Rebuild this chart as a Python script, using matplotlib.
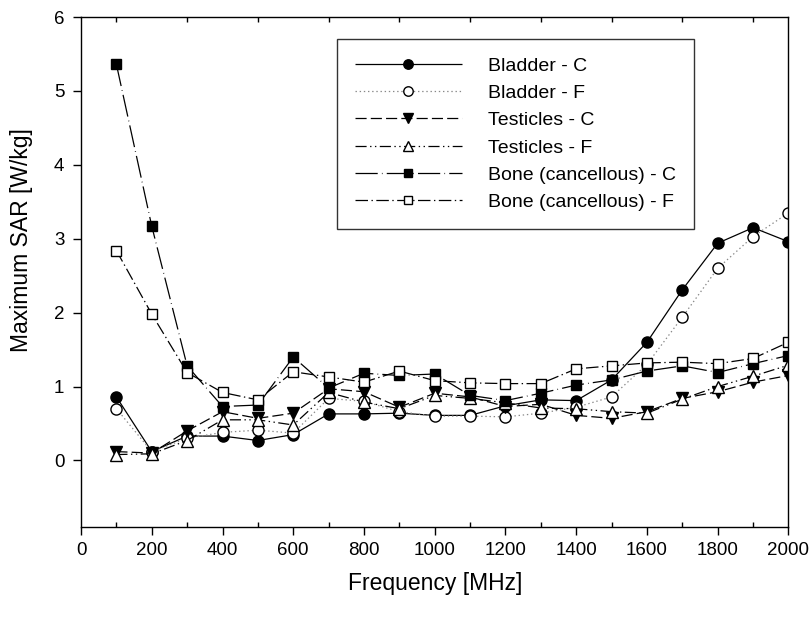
import matplotlib
matplotlib.use("Agg")
import matplotlib.pyplot as plt
from matplotlib.ticker import MultipleLocator

plt.rcParams['font.family'] = ['Liberation Sans', 'DejaVu Sans']
plt.rcParams['lines.scale_dashes'] = False

# --- data ---
freq = [100, 200, 300, 400, 500, 600, 700, 800, 900, 1000,
        1100, 1200, 1300, 1400, 1500, 1600, 1700, 1800, 1900, 2000]

bladder_c = [0.86, 0.12, 0.33, 0.33, 0.27, 0.35, 0.63, 0.63, 0.64, 0.61,
             0.61, 0.74, 0.82, 0.81, 1.09, 1.60, 2.31, 2.94, 3.15, 2.96]
bladder_f = [0.70, 0.12, 0.30, 0.38, 0.41, 0.37, 0.84, 0.80, 0.66, 0.60,
             0.60, 0.59, 0.64, 0.72, 0.86, 1.30, 1.94, 2.60, 3.03, 3.35]
testicles_c = [0.12, 0.10, 0.40, 0.66, 0.57, 0.64, 0.97, 0.93, 0.72, 0.91,
               0.86, 0.73, 0.76, 0.61, 0.57, 0.66, 0.84, 0.93, 1.06, 1.15]
testicles_f = [0.08, 0.09, 0.27, 0.55, 0.55, 0.48, 0.92, 0.79, 0.70, 0.88,
               0.84, 0.78, 0.71, 0.70, 0.66, 0.64, 0.83, 1.00, 1.14, 1.29]
bone_c = [5.36, 3.17, 1.28, 0.73, 0.75, 1.40, 0.98, 1.18, 1.15, 1.17,
          0.88, 0.81, 0.91, 1.02, 1.09, 1.21, 1.28, 1.19, 1.31, 1.42]
bone_f = [2.84, 1.98, 1.19, 0.92, 0.82, 1.20, 1.13, 1.06, 1.21, 1.08,
          1.05, 1.04, 1.04, 1.24, 1.28, 1.32, 1.33, 1.31, 1.38, 1.60]

series = [
    ("Bladder - C", bladder_c, 'o', 'black', 'black', (0, ())),
    ("Bladder - F", bladder_f, 'o', 'white', '#888888', (0, (1, 2))),
    ("Testicles - C", testicles_c, 'v', 'black', 'black', (0, (8, 3))),
    ("Testicles - F", testicles_f, '^', 'white', 'black', (0, (8, 2.5, 1, 2.5, 1, 2.5))),
    ("Bone (cancellous) - C", bone_c, 's', 'black', 'black', (0, (16, 3, 0.5, 3))),
    ("Bone (cancellous) - F", bone_f, 's', 'white', 'black', (0, (9, 2.5, 1, 2.5))),
]

fig = plt.figure(figsize=(8.11, 6.17), dpi=100)
ax = fig.add_axes([0.0999, 0.1459, 0.8723, 0.8265])

for label, vals, mk, fc, lc, ls in series:
    ms = 7.5 if mk == 's' else 8
    ax.plot(freq, vals, color=lc, linestyle=ls, linewidth=0.9,
            marker=mk, markersize=ms, markerfacecolor=fc,
            markeredgecolor='black', markeredgewidth=1.0, label=label)

ax.set_xlim(0, 2000)
ax.set_ylim(-0.9, 6)
ax.xaxis.set_major_locator(MultipleLocator(200))
ax.xaxis.set_minor_locator(MultipleLocator(100))
ax.set_yticks([0, 1, 2, 3, 4, 5, 6])

ax.tick_params(axis='x', which='major', direction='out', length=6, width=1,
               labelsize=13.5, pad=5)
ax.tick_params(axis='x', which='minor', direction='in', length=3.5, width=1,
               top=True, bottom=True)
ax.tick_params(axis='y', which='major', direction='out', length=6, width=1,
               labelsize=13.5, pad=6)
for sp in ax.spines.values():
    sp.set_linewidth(1.0)

ax.set_xlabel("Frequency [MHz]", fontsize=16.5, labelpad=9)
ax.set_ylabel("Maximum SAR [W/kg]", fontsize=16.5)
# label is centred on the 0..6 tick range, not the whole axis
ax.yaxis.set_label_coords(-0.068, 0.5627)

leg = ax.legend(loc='upper left', bbox_to_anchor=(0.3624, 0.956),
                fontsize=14, frameon=True, fancybox=False, shadow=False,
                handlelength=5.5, handletextpad=1.35, labelspacing=0.5,
                borderpad=0.9, numpoints=1, markerscale=0.85,
                borderaxespad=0)
leg.get_frame().set_edgecolor('black')
leg.get_frame().set_linewidth(1.0)

fig.savefig("out.png", dpi=100)
